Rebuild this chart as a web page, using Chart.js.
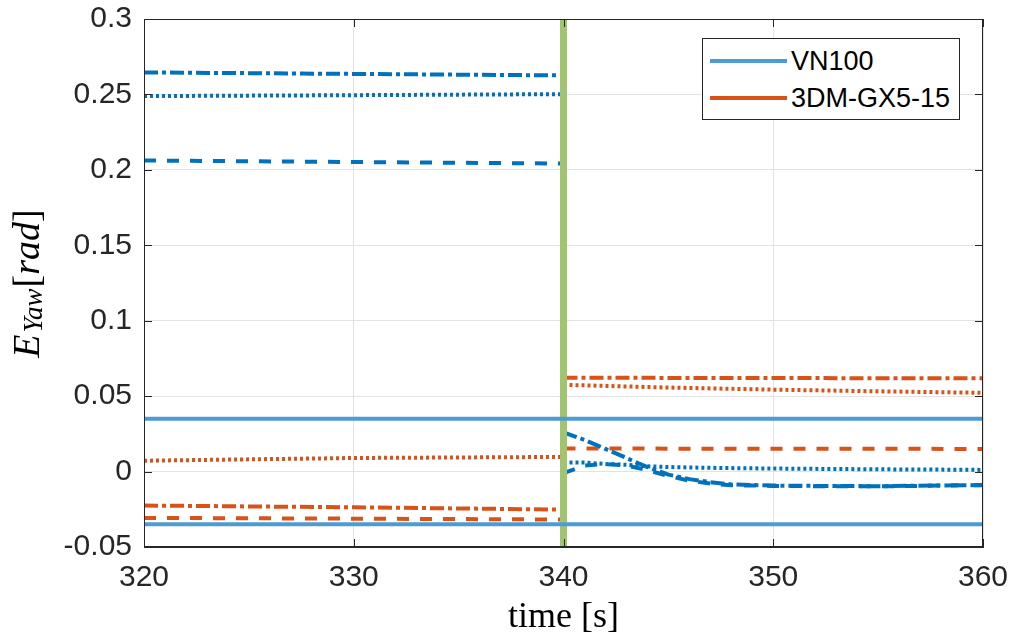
<!DOCTYPE html>
<html>
<head>
<meta charset="utf-8">
<script src="https://cdn.jsdelivr.net/npm/chart.js@4/dist/chart.umd.min.js"></script>
<style>
  body { margin: 0; background: #fff; }
  #wrap { position: relative; width: 1013px; height: 639px; }
  #legend {
    position: absolute; left: 702px; top: 38px; width: 256px; height: 80px;
    border: 1px solid #262626; background: #fff;
    font-family: 'Liberation Sans', Arial, sans-serif; font-size: 27px; color: #000;
  }
  .swatch { position: absolute; left: 7px; width: 77px; height: 4px; }
  .lbl { position: absolute; left: 88px; height: 30px; line-height: 30px; }
</style>
</head>
<body>
<div id="wrap">
  <canvas id="myChart" width="1013" height="639"></canvas>
  <div id="legend">
    <div class="swatch" style="top:20px;background:#4C9CD1"></div>
    <div class="lbl" style="top:7px">VN100</div>
    <div class="swatch" style="top:57px;background:#D95319"></div>
    <div class="lbl" style="top:44px">3DM-GX5-15</div>
  </div>
</div>
<script>
// ticks
const xTicks = [320, 330, 340, 350, 360]
const xTickLabels = ['320', '330', '340', '350', '360']
const yTicks = [-0.05, 0, 0.05, 0.1, 0.15, 0.2, 0.25, 0.3]
const yTickLabels = ['-0.05', '0', '0.05', '0.1', '0.15', '0.2', '0.25', '0.3']

// VN100 bounds
const vnTime = [320, 360]
const vnUpper = [0.035, 0.035]
const vnLower = [-0.035, -0.035]

// switch marker at t = 340
const markerTime = [340, 340]
const markerY = [-0.05, 0.3]

// before the switch
const tBefore = [320, 330, 340]
const blueDashDotBefore = [0.2646, 0.2636, 0.2626]
const blueDottedBefore = [0.2489, 0.2495, 0.2502]
const blueDashedBefore = [0.2062, 0.2052, 0.2042]
const orangeDottedBefore = [0.0072, 0.0090, 0.0097]
const orangeDashDotBefore = [-0.0225, -0.0237, -0.0252]
const orangeDashedBefore = [-0.0307, -0.0312, -0.0318]

// after the switch
const tAfter = [340, 341, 342, 343, 344, 345, 346, 347, 348, 350, 352, 355, 358, 360]
const blueDashDotAfter = [0.026, 0.021, 0.015, 0.009, 0.003, -0.002, -0.005, -0.007, -0.0085, -0.0093, -0.0095, -0.0097, -0.0092, -0.0089]
const blueDashedAfter = [-0.001, 0.004, 0.005, 0.004, 0.001, -0.003, -0.006, -0.008, -0.009, -0.0095, -0.0097, -0.0098, -0.0093, -0.009]
const blueDottedAfter = [0.006, 0.006, 0.005, 0.0045, 0.0035, 0.003, 0.0027, 0.0025, 0.0023, 0.002, 0.0018, 0.0015, 0.0013, 0.0011]

const tAfterCoarse = [340, 345, 350, 355, 360]
const orangeDashDotAfter = [0.0622, 0.0621, 0.062, 0.0619, 0.0618]
const orangeDottedAfter = [0.0575, 0.0557, 0.0543, 0.0532, 0.0522]
const orangeDashedAfter = [0.0153, 0.0152, 0.0152, 0.0151, 0.015]

const BLUE = '#0072BD'
const ORANGE = '#D95319'
const LIGHTBLUE = '#4C9CD1'
const GREEN = '#A0C56E'

const DASH = [12, 11]
const DOT = [3, 3]
const DASHDOT = [14, 4, 4, 4]

const pts = (xs, ys) => xs.map((x, i) => ({ x: x, y: ys[i] }))
const line = (xs, ys, color, dash, width) => ({
  data: pts(xs, ys),
  borderColor: color,
  borderWidth: width || 4,
  borderDash: dash || [],
  borderCapStyle: 'butt',
  pointRadius: 0,
  tension: 0,
  fill: false
})

// first dataset is drawn on top
const datasets = [
  line(vnTime, vnUpper, LIGHTBLUE),
  line(vnTime, vnLower, LIGHTBLUE),
  line(markerTime, markerY, GREEN, [], 7),
  line(tBefore, blueDashDotBefore, BLUE, DASHDOT),
  line(tBefore, blueDottedBefore, BLUE, DOT),
  line(tBefore, blueDashedBefore, BLUE, DASH),
  line(tAfter, blueDashDotAfter, BLUE, DASHDOT),
  line(tAfter, blueDottedAfter, BLUE, DOT),
  line(tAfter, blueDashedAfter, BLUE, DASH),
  line(tBefore, orangeDottedBefore, ORANGE, DOT),
  line(tBefore, orangeDashDotBefore, ORANGE, DASHDOT),
  line(tBefore, orangeDashedBefore, ORANGE, DASH),
  line(tAfterCoarse, orangeDashDotAfter, ORANGE, DASHDOT),
  line(tAfterCoarse, orangeDottedAfter, ORANGE, DOT),
  line(tAfterCoarse, orangeDashedAfter, ORANGE, DASH)
]

// box, inward ticks and the LaTeX-like axis titles
const frame = {
  id: 'frame',
  afterDraw(chart) {
    const { ctx, chartArea: a, scales } = chart
    ctx.save()
    ctx.strokeStyle = '#262626'
    ctx.lineWidth = 1
    ctx.strokeRect(a.left + 0.5, a.top + 0.5, a.right - a.left - 1, a.bottom - a.top - 1)
    ctx.beginPath()
    xTicks.forEach(v => {
      const x = Math.round(scales.x.getPixelForValue(v)) + 0.5
      ctx.moveTo(x, a.bottom); ctx.lineTo(x, a.bottom - 8)
      ctx.moveTo(x, a.top); ctx.lineTo(x, a.top + 8)
    })
    yTicks.forEach(v => {
      const y = Math.round(scales.y.getPixelForValue(v)) + 0.5
      ctx.moveTo(a.left, y); ctx.lineTo(a.left + 8, y)
      ctx.moveTo(a.right, y); ctx.lineTo(a.right - 8, y)
    })
    ctx.stroke()

    ctx.fillStyle = '#000'
    ctx.textBaseline = 'alphabetic'
    ctx.font = '36px "Liberation Serif", serif'
    ctx.textAlign = 'center'
    ctx.fillText('time [s]', (a.left + a.right) / 2, 627)

    const parts = [
      ['E', 'italic 38px "Liberation Serif", serif'],
      ['Yaw', 'italic 27px "Liberation Serif", serif'],
      ['[', '38px "Liberation Serif", serif'],
      ['rad', 'italic 38px "Liberation Serif", serif'],
      [']', '38px "Liberation Serif", serif']
    ]
    ctx.textAlign = 'left'
    let total = 0
    const widths = parts.map(p => { ctx.font = p[1]; const w = ctx.measureText(p[0]).width; total += w; return w })
    ctx.translate(39, 285)
    ctx.rotate(-Math.PI / 2)
    let cx = -total / 2
    parts.forEach((p, i) => {
      ctx.font = p[1]
      ctx.fillText(p[0], cx + (i === 1 ? 2 : 0), i === 1 ? 3 : 0)
      cx += widths[i] + (i === 1 ? 3 : 0)
    })
    ctx.restore()
  }
}

const tickFont = { family: "'Liberation Sans', Arial, sans-serif", size: 30 }

new Chart(document.getElementById('myChart').getContext('2d'), {
  type: 'line',
  data: { datasets: datasets },
  options: {
    responsive: false,
    animation: false,
    layout: { padding: { top: 19, right: 30, left: 0, bottom: 0 } },
    plugins: { legend: { display: false }, tooltip: { enabled: false } },
    scales: {
      x: {
        type: 'linear', min: 320, max: 360,
        afterBuildTicks: s => { s.ticks = xTicks.map(v => ({ value: v })) },
        afterFit: s => { s.height = 92; s.paddingLeft = 0; s.paddingRight = 0 },
        ticks: { font: tickFont, color: '#262626', padding: 13, maxRotation: 0,
                 callback: (v, i) => xTickLabels[i] },
        grid: { color: '#E3E3E3', drawTicks: false },
        border: { color: '#262626' }
      },
      y: {
        type: 'linear', min: -0.05, max: 0.3,
        afterBuildTicks: s => { s.ticks = yTicks.map(v => ({ value: v })) },
        afterFit: s => { s.width = 144; s.paddingTop = 0; s.paddingBottom = 0 },
        ticks: { font: tickFont, color: '#262626', padding: 12,
                 callback: (v, i) => yTickLabels[i] },
        grid: { color: '#E3E3E3', drawTicks: false },
        border: { color: '#262626' }
      }
    }
  },
  plugins: [frame]
})
</script>
</body>
</html>
